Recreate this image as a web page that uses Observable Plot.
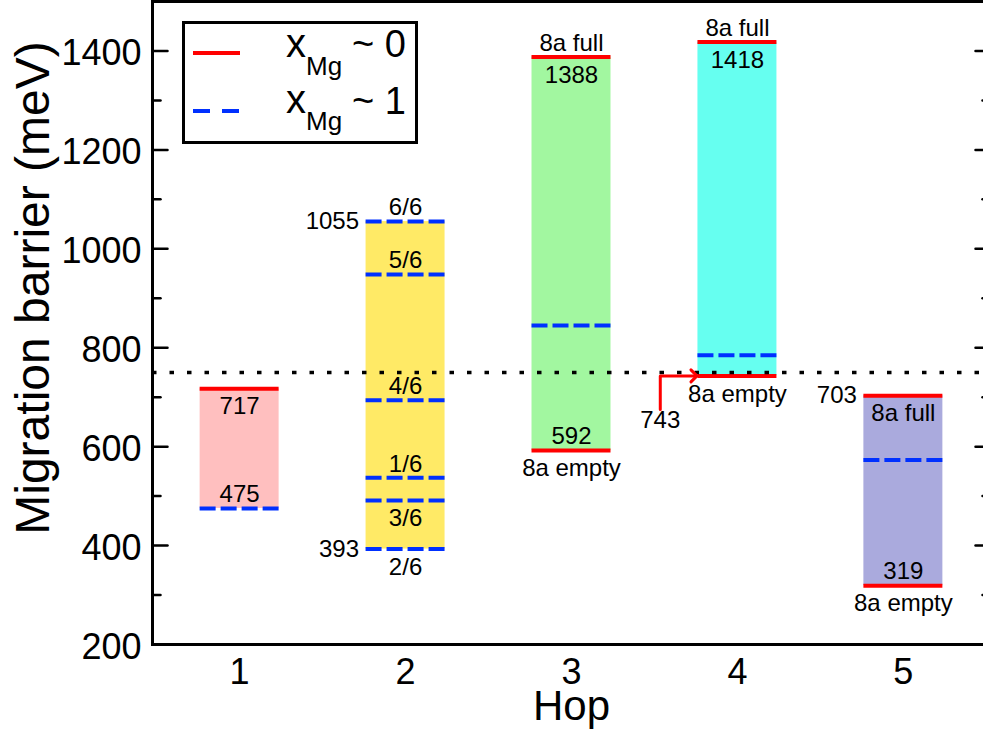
<!DOCTYPE html>
<html>
<head>
<meta charset="utf-8">
<script src="https://cdn.jsdelivr.net/npm/d3@7"></script>
<script src="https://cdn.jsdelivr.net/npm/@observablehq/plot@0.6"></script>
<style>
  html, body { margin: 0; padding: 0; background: #fff; }
  #wrap { position: relative; width: 983px; height: 732px; overflow: hidden; }
  #legend { position: absolute; left: 0; top: 0; pointer-events: none; }
  #legend text { font-family: "Liberation Sans", Arial, Helvetica, sans-serif; fill: #000; }
</style>
</head>
<body>
<div id="wrap"></div>
<script>
// ---------- data ----------
const hops = [1, 2, 3, 4, 5];
const xTickLabels = ["1", "2", "3", "4", "5"];
const barLow = [475, 393, 592, 743, 319];
const barHigh = [717, 1055, 1388, 1418, 703];
const barColors = ["#ffbfbf", "#ffea66", "#a2f7a0", "#66fff0", "#aaaadd"];

// x_Mg ~ 0 (red solid)
const mg0Hop = [1, 3, 3, 4, 4, 5, 5];
const mg0Val = [717, 1388, 592, 1418, 743, 703, 319];
// x_Mg ~ 1 (blue dashed)
const mg1Hop = [1, 2, 2, 2, 2, 2, 2, 3, 4, 5];
const mg1Val = [475, 1055, 948, 694, 537, 491, 393, 845, 785, 573];

const threshold = 750;

const yTicksMajor = [200, 400, 600, 800, 1000, 1200, 1400];
const yTicksMinor = [300, 500, 700, 900, 1100, 1300];

// annotations
const aboveHop = [1, 2, 2, 2, 2, 3, 3, 4, 5];
const aboveVal = [475, 1055, 948, 694, 537, 1388, 592, 1418, 319];
const aboveText = ["475", "6/6", "5/6", "4/6", "1/6", "8a full", "592", "8a full", "319"];

const belowHop = [1, 2, 2, 3, 3, 4, 4, 5, 5];
const belowVal = [717, 491, 393, 1388, 592, 1418, 743, 703, 319];
const belowText = ["717", "3/6", "2/6", "1388", "8a empty", "1418", "8a empty", "8a full", "8a empty"];

const leftHop = [2, 2, 5];
const leftVal = [1055, 393, 703];
const leftText = ["1055", "393", "703"];

const arrowHop = [4];
const arrowVal = [743];
const arrowText = ["743"];

// ---------- plot ----------
const HW = 0.238;            // half bar width (x units)
const FONT = "Liberation Sans, Arial, Helvetica, sans-serif";
const RED = "#ff0000", BLUE = "#0030ff";

const idx = a => d3.range(a.length);
const tickShape = { draw(ctx, l) { ctx.moveTo(0, 0); ctx.lineTo(0, -l); } };

const arrowPts = [];
arrowHop.forEach((h, i) => {
  const v = arrowVal[i];
  arrowPts.push({x: h - 0.465, y: v - 68, i}, {x: h - 0.465, y: v, i}, {x: h - 0.262, y: v, i});
});

const chart = Plot.plot({
  width: 983,
  height: 732,
  marginLeft: 152,
  marginRight: -7,
  marginTop: 1,
  marginBottom: 88,
  x: {domain: [0.475, 5.525], axis: null},
  y: {domain: [200, 1500], axis: null},
  style: {fontFamily: FONT, color: "black", background: "white"},
  marks: [
    // bars
    Plot.rect(idx(hops), {
      x1: i => hops[i] - HW, x2: i => hops[i] + HW,
      y1: i => barLow[i], y2: i => barHigh[i],
      fill: i => barColors[i]
    }),
    // x_Mg ~ 0 lines
    Plot.ruleY(idx(mg0Val), {
      y: i => mg0Val[i], x1: i => mg0Hop[i] - HW, x2: i => mg0Hop[i] + HW,
      stroke: RED, strokeWidth: 4
    }),
    // x_Mg ~ 1 lines
    Plot.ruleY(idx(mg1Val), {
      y: i => mg1Val[i], x1: i => mg1Hop[i] - HW, x2: i => mg1Hop[i] + HW,
      stroke: BLUE, strokeWidth: 4, strokeDasharray: "16,5"
    }),
    // dotted threshold
    Plot.ruleY([threshold], {stroke: "black", strokeWidth: 3.5, strokeDasharray: "4.5,13"}),
    // arrow
    Plot.line(arrowPts, {x: "x", y: "y", z: "i", stroke: RED, strokeWidth: 3, markerEnd: "arrow"}),
    Plot.text(idx(arrowHop), {
      x: i => arrowHop[i] - 0.465, y: i => arrowVal[i] - 68, text: i => arrowText[i],
      dy: 1, fontSize: 24, lineAnchor: "top"
    }),
    // annotations
    Plot.text(idx(aboveHop), {
      x: i => aboveHop[i], y: i => aboveVal[i], text: i => aboveText[i],
      dy: -14, fontSize: 24
    }),
    Plot.text(idx(belowHop), {
      x: i => belowHop[i], y: i => belowVal[i], text: i => belowText[i],
      dy: 18, fontSize: 24
    }),
    Plot.text(idx(leftHop), {
      x: i => leftHop[i] - HW, y: i => leftVal[i], text: i => leftText[i],
      dx: -7, textAnchor: "end", fontSize: 24
    }),
    // frame
    Plot.frame({stroke: "black", strokeWidth: 3}),
    // ticks (inward) left & right
    Plot.vector(yTicksMajor, {y: d => d, frameAnchor: "left", rotate: 90, length: 15, anchor: "start", shape: tickShape, stroke: "black", strokeWidth: 2.5}),
    Plot.vector(yTicksMinor, {y: d => d, frameAnchor: "left", rotate: 90, length: 8, anchor: "start", shape: tickShape, stroke: "black", strokeWidth: 2.5}),
    Plot.vector(yTicksMajor, {y: d => d, frameAnchor: "right", rotate: -90, length: 15, anchor: "start", shape: tickShape, stroke: "black", strokeWidth: 2.5}),
    Plot.vector(yTicksMinor, {y: d => d, frameAnchor: "right", rotate: -90, length: 8, anchor: "start", shape: tickShape, stroke: "black", strokeWidth: 2.5}),
    // tick labels
    Plot.text(yTicksMajor, {y: d => d, text: d => String(d), frameAnchor: "left", textAnchor: "end", lineAnchor: "middle", dx: -11, dy: 3, fontSize: 36}),
    Plot.text(idx(hops), {x: i => hops[i], text: i => xTickLabels[i], frameAnchor: "bottom", textAnchor: "middle", lineAnchor: "middle", dy: 28, fontSize: 36}),
    // axis titles
    Plot.text(["Hop"], {frameAnchor: "bottom", textAnchor: "middle", lineAnchor: "middle", dy: 62, fontSize: 42}),
    Plot.text(["Migration barrier (meV)"], {frameAnchor: "left", textAnchor: "middle", lineAnchor: "middle", rotate: -90, dx: -119, dy: -35, fontSize: 48})
  ]
});

const wrap = document.getElementById("wrap");
wrap.appendChild(chart);

// legend overlay
const ns = "http://www.w3.org/2000/svg";
const leg = document.createElementNS(ns, "svg");
leg.setAttribute("id", "legend");
leg.setAttribute("width", 983);
leg.setAttribute("height", 732);
leg.innerHTML = `
  <rect x="183.5" y="22.5" width="233" height="120" fill="#fff" stroke="#000" stroke-width="3"/>
  <line x1="193" x2="240" y1="53" y2="53" stroke="${RED}" stroke-width="4"/>
  <line x1="193" x2="240" y1="111" y2="111" stroke="${BLUE}" stroke-width="4" stroke-dasharray="17,12"/>
  <text x="286" y="57" font-size="40">x</text>
  <text x="306" y="75" font-size="26">Mg</text>
  <text x="352" y="57" font-size="38">~ 0</text>
  <text x="286" y="113" font-size="40">x</text>
  <text x="306" y="130" font-size="26">Mg</text>
  <text x="352" y="114" font-size="38">~ 1</text>
`;
wrap.appendChild(leg);
</script>
</body>
</html>
